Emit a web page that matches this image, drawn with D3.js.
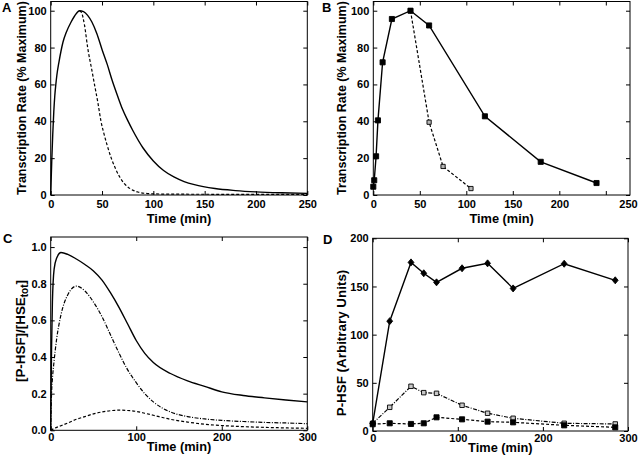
<!DOCTYPE html>
<html>
<head>
<meta charset="utf-8">
<script src="https://cdn.jsdelivr.net/npm/d3@7"></script>
<style>
  body { margin: 0; background: #fff; }
  svg { font-family: "Liberation Sans", Arial, sans-serif; font-weight: bold; }
</style>
</head>
<body>
<div id="graf"></div>
<script>
// I. Datos

// Panel A: tasa de transcripcion modelo (% maximo)
tiempoA = [0, 1, 2, 3, 4, 5, 6, 8, 10, 12, 15, 20, 25, 28, 32, 36, 40, 45, 50, 55, 60, 65, 70, 75, 80, 90, 100, 110, 120, 130, 140, 160, 180, 200, 225, 250]
tasaA = [0, 18, 33, 45, 54, 60, 65, 72, 78, 83, 88, 94, 98.5, 100, 99.5, 97.5, 94, 87.5, 79, 71, 62, 54, 46.5, 40.5, 35, 25.5, 18.5, 13.3, 9.8, 7.3, 5.6, 3.5, 2.4, 1.7, 1.2, 0.9]
tiempoA2 = [28, 30, 33, 36, 40, 43, 46, 49, 52, 55, 59, 63, 67, 72, 77, 85, 92, 100, 120, 150, 200, 250]
tasaA2 = [100, 99, 92, 80, 68, 59, 50, 40, 33, 27, 20, 14.5, 10, 6, 3.6, 1.6, 0.9, 0.6, 0.45, 0.4, 0.35, 0.3]

// Panel B: tasa de transcripcion medida
tiempoB = [0, 1, 3, 5, 10, 20, 40, 60, 120, 180, 240]
tasaB = [4.5, 8, 21, 40.5, 72, 95.5, 100, 92, 42.7, 18, 6.5]
tiempoB2 = [40, 60, 75, 105]
tasaB2 = [100, 39.5, 15.5, 3.5]

// Panel C: [P-HSF]/[HSEtot] modelo
tiempoC = [0, 1, 2, 4, 7, 12, 20, 30, 40, 50, 60, 70, 80, 90, 100, 110, 120, 140, 160, 180, 200, 225, 250, 275, 300]
solidoC = [0, 0.45, 0.7, 0.88, 0.94, 0.97, 0.96, 0.935, 0.905, 0.87, 0.82, 0.75, 0.67, 0.58, 0.49, 0.42, 0.37, 0.31, 0.27, 0.24, 0.21, 0.19, 0.177, 0.165, 0.155]
puntoC = [0, 0.2, 0.28, 0.38, 0.5, 0.63, 0.74, 0.787, 0.76, 0.7, 0.62, 0.52, 0.42, 0.33, 0.26, 0.2, 0.155, 0.1, 0.075, 0.062, 0.054, 0.048, 0.043, 0.04, 0.036]
guionC = [0, 0.002, 0.005, 0.01, 0.016, 0.025, 0.04, 0.06, 0.075, 0.09, 0.1, 0.107, 0.11, 0.108, 0.103, 0.093, 0.082, 0.06, 0.045, 0.033, 0.026, 0.02, 0.016, 0.013, 0.011]

// Panel D: P-HSF medido (unidades arbitrarias)
tiempoD = [0, 20, 45, 60, 75, 105, 135, 165, 225, 285]
solidoD = [8, 114, 175, 163.7, 154.3, 168.9, 174, 148, 173.6, 156.4]
abiertoD = [8, 24.6, 46.4, 39.8, 39.1, 26.7, 18.4, 13.2, 8, 7.3]
llenoD = [7, 8, 7.3, 8, 14.2, 12.1, 9.7, 9, 5.9, 3.8]

// ticks
ticksX250 = [0, 50, 100, 150, 200, 250]
ticksX300 = [0, 100, 200, 300]
ticksY100 = [0, 20, 40, 60, 80, 100]
ticksY1 = [0, 0.2, 0.4, 0.6, 0.8, 1]
ticksY200 = [0, 50, 100, 150, 200]

// II. Configuracion
svg = d3.select('#graf').append('svg')
        .attr('width', 640)
        .attr('height', 463)

fuente = '"Liberation Sans", Arial, sans-serif'

// dibuja la caja con ejes estilo matlab (ticks hacia dentro en los 4 lados)
function panel(p) {
  x = d3.scaleLinear().domain(p.xdom).range([p.izq, p.der])
  y = d3.scaleLinear().domain(p.ydom).range([p.abajo, p.arriba])
  g = svg.append('g')

  ejeX = g.append('g')
          .attr('transform', `translate(0, ${p.abajo})`)
          .call(d3.axisBottom(x).tickValues(p.xticks).tickSize(-4).tickPadding(p.pad))
  g.append('g')
   .attr('transform', `translate(0, ${p.arriba})`)
   .call(d3.axisTop(x).tickValues(p.xticks).tickSize(-4).tickFormat(''))
  g.append('g')
   .attr('transform', `translate(${p.izq}, 0)`)
   .call(d3.axisLeft(y).tickValues(p.yticks).tickSize(-4).tickPadding(4))
  g.append('g')
   .attr('transform', `translate(${p.der}, 0)`)
   .call(d3.axisRight(y).tickValues(p.yticks).tickSize(-4).tickFormat(''))

  g.selectAll('.domain').remove()
  g.selectAll('g')
   .attr('font-family', fuente)
   .attr('font-size', 11)
   .attr('font-weight', 'bold')

  g.append('rect')
   .attr('x', p.izq)
   .attr('y', p.arriba)
   .attr('width', p.der - p.izq)
   .attr('height', p.abajo - p.arriba)
   .attr('fill', 'none')
   .attr('stroke', '#000')

  // titulo eje x
  g.append('text')
   .attr('x', (p.izq + p.der) / 2)
   .attr('y', p.abajo + p.tx)
   .attr('text-anchor', 'middle')
   .attr('font-size', 12.8)
   .text('Time (min)')

  // letra del panel
  g.append('text')
   .attr('x', p.lx)
   .attr('y', p.ly)
   .attr('font-size', 13)
   .text(p.letra)

  return { x: x, y: y, g: g, ejeX: ejeX }
}

function tituloY(g, px, py, texto, tam) {
  return g.append('text')
          .attr('transform', `translate(${px}, ${py}) rotate(-90)`)
          .attr('text-anchor', 'middle')
          .attr('font-size', tam)
          .text(texto)
}

// marcador diamante
diamante = {
  draw: function(ctx, s) {
    ctx.moveTo(0, -3.5)
    ctx.lineTo(2.9, 0)
    ctx.lineTo(0, 3.5)
    ctx.lineTo(-2.9, 0)
    ctx.closePath()
  }
}

function linea(g, sx, sy, ts, vs, guion, curva) {
  datos = ts.map((t, i) => [t, vs[i]])
  g.append('path')
   .datum(datos)
   .attr('fill', 'none')
   .attr('stroke', '#000')
   .attr('stroke-width', guion ? 1.2 : 1.4)
   .attr('stroke-dasharray', guion)
   .attr('d', d3.line()
                .x(d => sx(d[0]))
                .y(d => sy(d[1]))
                .curve(curva || d3.curveLinear))
  return datos
}

function marcas(g, sx, sy, datos, tipo, tam, relleno) {
  g.selectAll(null)
   .data(datos)
   .enter()
   .append('path')
     .attr('transform', d => `translate(${sx(d[0])}, ${sy(d[1])})`)
     .attr('d', d3.symbol().type(tipo).size(tam))
     .attr('fill', relleno)
     .attr('stroke', '#000')
     .attr('stroke-width', 0.9)
}

// III. Panel A
A = panel({ xdom: [0, 250], ydom: [0, 105], izq: 50.7, der: 307.3, arriba: 1.5, abajo: 195,
            xticks: ticksX250, yticks: ticksY100, pad: 5, tx: 28, letra: 'A', lx: 2, ly: 12 })
linea(A.g, A.x, A.y, tiempoA, tasaA, null, d3.curveMonotoneX)
linea(A.g, A.x, A.y, tiempoA2, tasaA2, '3,2', d3.curveMonotoneX)
tituloY(A.g, 25.5, 98, 'Transcription Rate (% Maximum)', 12.5)

// IV. Panel B (el eje llega a ~276 min; la etiqueta 250 queda en el borde)
B = panel({ xdom: [0, 276], ydom: [0, 105], izq: 373.3, der: 630, arriba: 1.5, abajo: 195,
            xticks: ticksX250, yticks: ticksY100, pad: 5, tx: 28, letra: 'B', lx: 322, ly: 12 })
B.ejeX.selectAll('.tick text')
      .filter(d => d === 250)
      .attr('x', 630 - B.x(250) - 2)
lb = linea(B.g, B.x, B.y, tiempoB, tasaB, null)
lb2 = linea(B.g, B.x, B.y, tiempoB2, tasaB2, '3,2')
marcas(B.g, B.x, B.y, lb2, d3.symbolSquare, 18, '#b5b5b5')
marcas(B.g, B.x, B.y, lb, d3.symbolSquare, 26, '#000')
tituloY(B.g, 345.5, 98, 'Transcription Rate (% Maximum)', 12.5)

// V. Panel C
C = panel({ xdom: [0, 300], ydom: [0, 1.055], izq: 50.7, der: 307.3, arriba: 237, abajo: 430.3,
            xticks: ticksX300, yticks: ticksY1, pad: 3, tx: 21, letra: 'C', lx: 3, ly: 243 })
linea(C.g, C.x, C.y, tiempoC, solidoC, null, d3.curveMonotoneX)
linea(C.g, C.x, C.y, tiempoC, puntoC, '4,1.5,1,1.5', d3.curveMonotoneX)
linea(C.g, C.x, C.y, tiempoC, guionC, '3,2', d3.curveMonotoneX)
tc = tituloY(C.g, 25, 331, '', 13.4)
tc.append('tspan').text('[P-HSF]/[HSE')
tc.append('tspan').attr('font-size', 10).attr('dy', 3).text('tot')
tc.append('tspan').attr('dy', -3).text(']')

// VI. Panel D
D = panel({ xdom: [0, 300], ydom: [0, 200], izq: 372.7, der: 628, arriba: 238.3, abajo: 431,
            xticks: ticksX300, yticks: ticksY200, pad: 3, tx: 21, letra: 'D', lx: 323, ly: 244 })
ld1 = linea(D.g, D.x, D.y, tiempoD, solidoD, null)
ld2 = linea(D.g, D.x, D.y, tiempoD, abiertoD, '4,1.5,1,1.5')
ld3 = linea(D.g, D.x, D.y, tiempoD, llenoD, '3,2')
marcas(D.g, D.x, D.y, ld2, d3.symbolSquare, 20, '#c8c8c8')
marcas(D.g, D.x, D.y, ld3, d3.symbolSquare, 26, '#000')
marcas(D.g, D.x, D.y, ld1, diamante, 30, '#000')
tituloY(D.g, 345.5, 343, 'P-HSF (Arbitrary Units)', 13.4)
</script>
</body>
</html>
